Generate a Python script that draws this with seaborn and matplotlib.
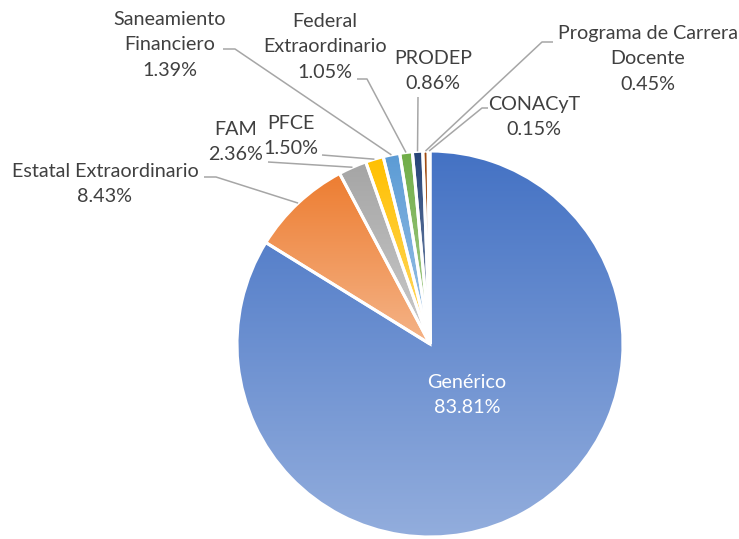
import numpy as np
import matplotlib
matplotlib.use("Agg")
import matplotlib.pyplot as plt
import seaborn as sns
from matplotlib.colors import to_rgb

sns.set_theme(style="white")
plt.rcParams['font.family'] = ['Lato', 'DejaVu Sans']

# Budget shares by funding source (%)
categories = ["Genérico", "Estatal Extraordinario", "FAM", "PFCE",
              "Saneamiento Financiero", "Federal Extraordinario", "PRODEP",
              "Programa de Carrera Docente", "CONACyT"]
shares = [83.81, 8.43, 2.36, 1.50, 1.39, 1.05, 0.86, 0.45, 0.15]
label_names = ["Genérico", "Estatal Extraordinario", "FAM", "PFCE",
               "Saneamiento\nFinanciero", "Federal\nExtraordinario", "PRODEP",
               "Programa de Carrera\nDocente", "CONACyT"]
palette = sns.color_palette(["#4472C4", "#ED7D31", "#A5A5A5", "#FFC000", "#5B9BD5",
                             "#70AD47", "#264478", "#9E480E", "#636363"])

W, H = 739, 539
CX, CY, R = 430, 344, 193          # pie centre / radius in pixel units (y from top)

# label centres (pixel, y from top) and leader-line anchor points near the labels
label_pos = [(467, 395), (105, 184), (236, 142), (291, 136), (170, 45),
             (325, 47), (433, 71), (648, 59), (534, 117)]
leader_pts = [None,
              [(204, 177), (216, 177)],
              [(268, 162)],
              [(322, 155)],
              [(223, 49), (235, 49)],
              [(357, 79), (367, 79)],
              [(418, 97)],
              [(553, 42), (542, 42)],
              [(488, 108), (482, 108)]]

fig = plt.figure(figsize=(W / 100, H / 100), dpi=100)
ax = fig.add_axes([0, 0, 1, 1])

wedges, _ = ax.pie(shares, radius=R, center=(CX, H - CY), startangle=90,
                   counterclock=False, colors=palette,
                   wedgeprops=dict(edgecolor="white", linewidth=2.2))

# vertical gradient fill, darker at the top of each slice
for w, col in zip(wedges, palette):
    ext = w.get_path().get_extents()
    top = np.array(to_rgb(col))
    bot = top + (1 - top) * 0.42
    t = np.linspace(0, 1, 256)[:, None, None]
    img = top * (1 - t) + bot * t
    im = ax.imshow(img, extent=(ext.x0, ext.x1, ext.y0, ext.y1), origin="upper",
                   aspect="auto", interpolation="bilinear", zorder=1)
    im.set_clip_path(w)
    w.set_facecolor("none")
    w.set_zorder(2)

text_col = "#404040"
line_col = "#A6A6A6"
for i, (w, name, val) in enumerate(zip(wedges, label_names, shares)):
    lx, ly = label_pos[i]
    color = "white" if i == 0 else text_col
    ax.text(lx, H - ly, f"{name}\n{val:.2f}%", ha="center", va="center",
            fontsize=14.2, color=color, linespacing=1.58, zorder=4)
    if leader_pts[i] is None:
        continue
    mid = np.deg2rad((w.theta1 + w.theta2) / 2)
    end = (CX + R * np.cos(mid), H - CY + R * np.sin(mid))
    pts = [(x, H - y) for x, y in leader_pts[i]] + [end]
    xs, ys = zip(*pts)
    ax.plot(xs, ys, color=line_col, lw=1.1, zorder=3, solid_capstyle="butt")

ax.set_xlim(0, W)
ax.set_ylim(0, H)
ax.set_aspect("auto")
ax.axis("off")
fig.savefig("out.png", dpi=100, facecolor="white")
